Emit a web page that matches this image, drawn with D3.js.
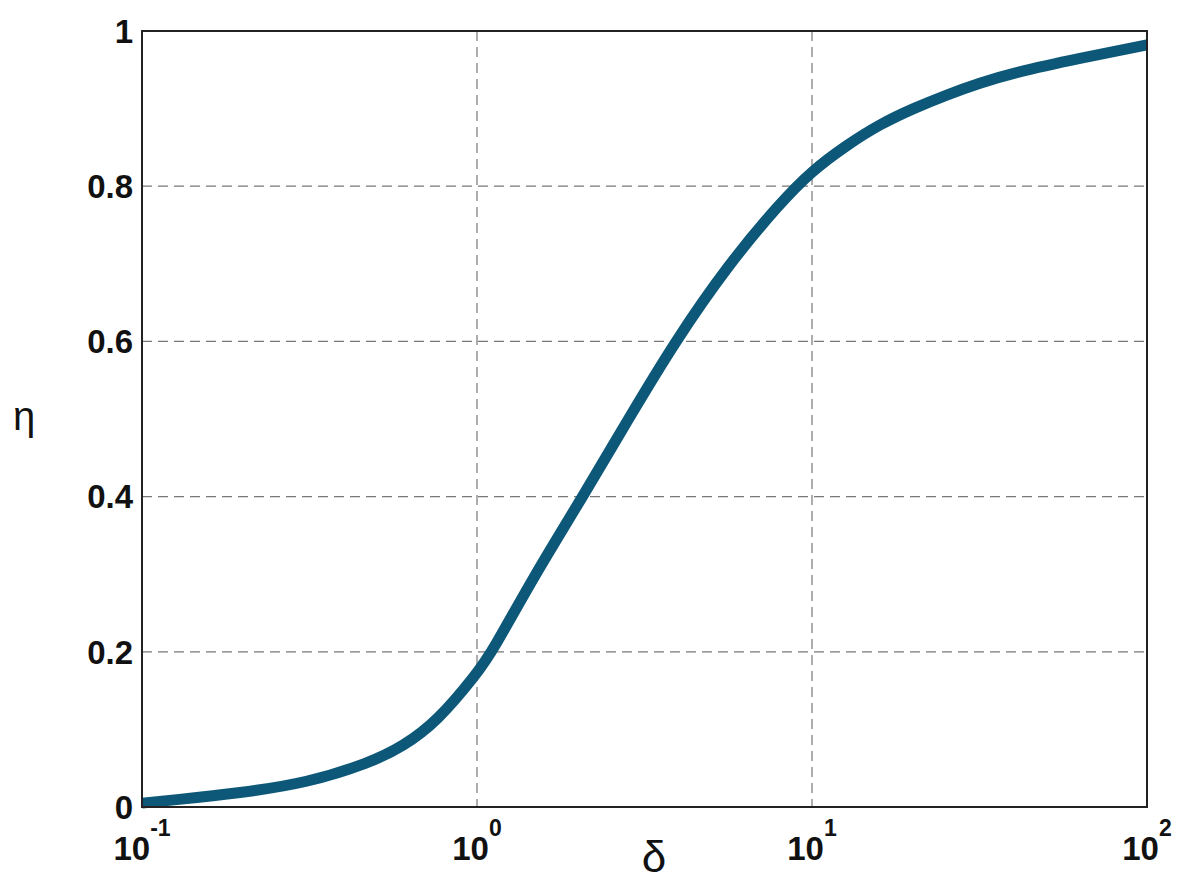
<!DOCTYPE html>
<html>
<head>
<meta charset="utf-8">
<script src="https://cdn.jsdelivr.net/npm/d3@7"></script>
<style>
  body { margin: 0; background: #fff; }
  text { font-family: "Liberation Sans", Arial, sans-serif; }
</style>
</head>
<body>
<div id="chart"></div>
<script>
// curve: delta (log axis) and eta
const deltaVals = [0.1, 0.124, 0.196, 0.311, 0.48, 0.601, 0.76, 1.0, 1.11, 1.49, 2.07, 2.83, 3.9, 5.65, 8.02, 10, 12.7, 15.96, 20.0, 25.3, 31.7, 39.8, 63.1, 100];
const etaVals   = [0.005, 0.009, 0.018, 0.031, 0.057, 0.078, 0.11, 0.172, 0.2, 0.3, 0.4, 0.5, 0.6, 0.7, 0.778, 0.82, 0.853, 0.88, 0.9, 0.918, 0.933, 0.946, 0.965, 0.982];
const xTicks = [0.1, 1, 10, 100];
const xTickExp = ["-1", "0", "1", "2"];
const yTicks = [0, 0.2, 0.4, 0.6, 0.8, 1];
const yTickLabels = ["0", "0.2", "0.4", "0.6", "0.8", "1"];

const W = 1181, H = 884;
const margin = { top: 31, right: 34, bottom: 77, left: 142 };
const width = W - margin.left - margin.right,
      height = H - margin.top - margin.bottom;

const svg = d3.select("#chart").append("svg")
  .attr("width", W).attr("height", H);

const g = svg.append("g")
  .attr("transform", `translate(${margin.left},${margin.top})`);

const x = d3.scaleLog().domain([0.1, 100]).range([0, width]);
const y = d3.scaleLinear().domain([0, 1]).range([height, 0]);

// grid
g.append("g").selectAll("line")
  .data(xTicks.slice(1, -1))
  .enter().append("line")
  .attr("x1", d => x(d)).attr("x2", d => x(d))
  .attr("y1", 0).attr("y2", height)
  .attr("stroke", "#777").attr("stroke-width", 1.2)
  .attr("stroke-dasharray", "10,6");

g.append("g").selectAll("line")
  .data(yTicks.slice(1, -1))
  .enter().append("line")
  .attr("x1", 0).attr("x2", width)
  .attr("y1", d => y(d)).attr("y2", d => y(d))
  .attr("stroke", "#777").attr("stroke-width", 1.2)
  .attr("stroke-dasharray", "10,6");

// curve
const pts = deltaVals.map((d, i) => [d, etaVals[i]]);
const line = d3.line()
  .x(d => x(d[0])).y(d => y(d[1]))
  .curve(d3.curveBasis);

g.append("path")
  .datum(pts)
  .attr("d", line)
  .attr("fill", "none")
  .attr("stroke", "#0d5878")
  .attr("stroke-width", 11)
  .attr("stroke-linecap", "butt");

// box
g.append("rect")
  .attr("x", 0).attr("y", 0)
  .attr("width", width).attr("height", height)
  .attr("fill", "none").attr("stroke", "#222").attr("stroke-width", 2);

// y tick labels
g.append("g").selectAll("text")
  .data(yTicks)
  .enter().append("text")
  .attr("x", -9).attr("y", d => y(d))
  .attr("dy", "0.36em")
  .attr("text-anchor", "end")
  .attr("font-size", 33).attr("font-weight", "bold")
  .attr("fill", "#111")
  .text((d, i) => yTickLabels[i]);

// x tick labels, 10^n
const xl = g.append("g").selectAll("text")
  .data(xTicks)
  .enter().append("text")
  .attr("x", d => x(d)).attr("y", height + 53)
  .attr("text-anchor", "middle")
  .attr("font-size", 33).attr("font-weight", "bold")
  .attr("fill", "#111");
xl.append("tspan").text("10");
xl.append("tspan")
  .attr("font-size", 23).attr("dy", -24)
  .text((d, i) => xTickExp[i]);

// axis labels
svg.append("text")
  .attr("x", 654).attr("y", 872)
  .attr("text-anchor", "middle")
  .attr("font-size", 44)
  .attr("fill", "#111")
  .text("δ");

svg.append("text")
  .attr("x", 24).attr("y", 430)
  .attr("text-anchor", "middle")
  .attr("font-size", 40)
  .attr("fill", "#111")
  .text("η");
</script>
</body>
</html>
